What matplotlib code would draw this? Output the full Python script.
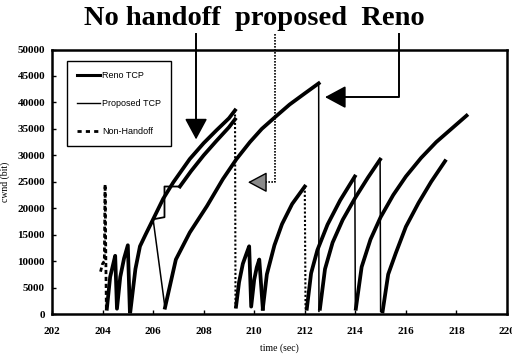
import numpy as np
import matplotlib
matplotlib.use('Agg')
import matplotlib.pyplot as plt
from matplotlib.lines import Line2D

# ---- data (time in sec, cwnd in bit) ----
# short dashed spike around 204 s
spike_t = [203.92, 204.0, 204.07, 204.1, 204.15]
spike_w = [8000, 9500, 10000, 24500, 1000]

# small teeth 204-205 s
teeth1_t = [204.17, 204.3, 204.45, 204.5, 204.57, 204.7, 204.85, 205.0, 205.08]
teeth1_w = [1000, 7000, 10000, 11000, 1000, 7000, 10500, 13000, 500]

# upper curve 205-209.2 s (no handoff)
nh_t = [205.1, 205.3, 205.48, 205.7, 206.0, 206.4, 206.8, 207.45, 208.0, 208.5, 209.0, 209.24]
nh_w = [500, 8500, 12800, 15000, 17900, 21800, 24900, 29300, 32300, 34700, 37000, 38500]

# proposed curve (lower line of the pair)
prop_t = [206.0, 206.45, 206.45, 207.06, 207.5, 208.0, 208.5, 209.0, 209.24]
prop_w = [17900, 18300, 24100, 24100, 27000, 30000, 32700, 35300, 36800]

# drop at 209.24 s
drop1_t = [209.24, 209.26]
drop1_w = [38500, 1000]

# reno: thin fall 206.0 -> 206.47 then long rise to 212.55
vfall_t = [206.0, 206.47]
vfall_w = [17900, 1200]
reno1_t = [206.47, 206.9, 207.45, 208.13, 208.76, 209.3, 209.83, 210.3, 210.82, 211.4, 212.0, 212.55]
reno1_w = [1200, 10300, 15400, 20400, 25500, 29300, 32500, 35000, 37200, 39600, 41700, 43600]
reno_drop1_t = [212.55, 212.56]
reno_drop1_w = [43600, 500]
reno2_t = [212.6, 212.8, 213.1, 213.5, 214.0, 214.5, 214.98]
reno2_w = [1000, 8500, 13500, 17800, 22000, 25800, 29200]
reno_drop2_t = [214.98, 215.0]
reno_drop2_w = [29200, 500]
reno3_t = [215.08, 215.3, 215.6, 216.0, 216.5, 217.0, 217.55]
reno3_w = [500, 7500, 11500, 16500, 21000, 25000, 28900]

# teeth 209.3-210.3 s
teeth2_t = [209.28, 209.4, 209.55, 209.7, 209.8, 209.88, 210.0, 210.1, 210.2, 210.34]
teeth2_w = [1400, 6000, 9500, 11500, 12800, 1400, 6500, 8800, 10300, 1000]

# rise 210.34 -> 212.0, dotted drop
rise2_t = [210.34, 210.5, 210.8, 211.1, 211.5, 212.0]
rise2_w = [1000, 7500, 13000, 17000, 20800, 24100]
drop2_t = [212.0, 212.03]
drop2_w = [24100, 1000]

# rise 212.08 -> 213.98, drop
rise3_t = [212.08, 212.25, 212.5, 212.9, 213.4, 213.98]
rise3_w = [1000, 7700, 12100, 16900, 21500, 26000]
drop3_t = [213.98, 214.0]
drop3_w = [26000, 1000]

# long rise 214.02 -> 218.4
rise4_t = [214.02, 214.25, 214.6, 215.0, 215.5, 216.0, 216.6, 217.2, 217.8, 218.4]
rise4_w = [1000, 8900, 14100, 18300, 22500, 26000, 29500, 32500, 35000, 37500]

x_ticks = [202, 204, 206, 208, 210, 212, 214, 216, 218, 220]
y_ticks = [0, 5000, 10000, 15000, 20000, 25000, 30000, 35000, 40000, 45000, 50000]

serif = ['Liberation Serif', 'DejaVu Serif']

fig = plt.figure(figsize=(5.12, 3.57), dpi=100)
ax = fig.add_axes([52/512, 43/357, 455/512, 264.5/357])

thick = 2.7
k = 'black'
ax.plot(spike_t, spike_w, color=k, lw=2.0, ls=(0, (1.5, 1)))
ax.plot(teeth1_t, teeth1_w, color=k, lw=thick)
ax.plot(nh_t, nh_w, color=k, lw=thick)
ax.plot(prop_t[:4], prop_w[:4], color=k, lw=1.3)
ax.plot(prop_t[3:], prop_w[3:], color=k, lw=thick)
ax.plot(drop1_t, drop1_w, color=k, lw=1.5, ls=(0, (1, 1)))
ax.plot(vfall_t, vfall_w, color=k, lw=1.1)
ax.plot(reno1_t, reno1_w, color=k, lw=thick)
ax.plot(reno_drop1_t, reno_drop1_w, color=k, lw=1.1)
ax.plot(reno2_t, reno2_w, color=k, lw=thick)
ax.plot(reno_drop2_t, reno_drop2_w, color=k, lw=1.1)
ax.plot(reno3_t, reno3_w, color=k, lw=thick)
ax.plot(teeth2_t, teeth2_w, color=k, lw=thick)
ax.plot(rise2_t, rise2_w, color=k, lw=thick)
ax.plot(drop2_t, drop2_w, color=k, lw=1.5, ls=(0, (1, 1)))
ax.plot(rise3_t, rise3_w, color=k, lw=thick)
ax.plot(drop3_t, drop3_w, color=k, lw=1.1)
ax.plot(rise4_t, rise4_w, color=k, lw=thick)

ax.set_xlim(202, 220)
ax.set_ylim(0, 50000)
ax.set_xticks(x_ticks)
ax.set_yticks(y_ticks)
ax.set_xticklabels([str(v) for v in x_ticks], family=serif, fontweight='bold')
ax.set_yticklabels([str(v) for v in y_ticks], family=serif, fontweight='bold')
ax.tick_params(direction='in', length=3, width=1, labelsize=8, pad=5)
ax.tick_params(axis='x', pad=9)
for s in ax.spines.values():
    s.set_linewidth(1.8)

ax.set_xlabel('time (sec)', family=serif, fontsize=7, labelpad=6)
ax.set_ylabel('cwnd (bit)', family=serif, fontsize=7, labelpad=5)

# legend
handles = [Line2D([], [], color=k, lw=2.2),
           Line2D([], [], color=k, lw=1.0),
           Line2D([], [], color=k, lw=2.0, ls=(0, (1.5, 1.5)))]
labels = ['Reno TCP', 'Proposed TCP', 'Non-Handoff']
lgd = ax.legend(handles, labels, loc='upper left', bbox_to_anchor=(0.033, 0.955),
                borderaxespad=0, fancybox=False, edgecolor='black', framealpha=1,
                prop={'family': 'Liberation Sans', 'size': 6.5},
                handlelength=2.6, handletextpad=0.2, labelspacing=2.1, borderpad=1.1)
lgd.get_frame().set_linewidth(1.0)

# title text and pointer arrows
fig.text(0.497, 0.947, 'No handoff  proposed  Reno', ha='center', va='center',
         family=serif, fontweight='bold', fontsize=20.5)

top = 52900
# no handoff
ax.plot([207.7, 207.7], [top, 36000], color=k, lw=1.4, clip_on=False)
ax.annotate('', xy=(207.7, 33000), xytext=(207.7, 36600),
            arrowprops=dict(arrowstyle='-|>,head_length=0.65,head_width=0.35',
                            mutation_scale=20, color=k, lw=1.2, shrinkA=0, shrinkB=0),
            annotation_clip=False)
# proposed
ax.plot([210.82, 210.82, 210.35], [top, 24900, 24900], color=k, lw=1.2,
        ls=(0, (1, 0.8)), clip_on=False)
ax.annotate('', xy=(209.75, 24900), xytext=(210.4, 24900),
            arrowprops=dict(arrowstyle='-|>,head_length=0.6,head_width=0.32',
                            mutation_scale=20, facecolor='#8a8a8a', edgecolor=k,
                            lw=1.0, shrinkA=0, shrinkB=0),
            annotation_clip=False)
# reno
ax.plot([215.73, 215.73, 213.4], [top, 41000, 41000], color=k, lw=1.4, clip_on=False)
ax.annotate('', xy=(212.8, 41000), xytext=(213.55, 41000),
            arrowprops=dict(arrowstyle='-|>,head_length=0.65,head_width=0.35',
                            mutation_scale=20, color=k, lw=1.2, shrinkA=0, shrinkB=0),
            annotation_clip=False)

fig.savefig('out.png', dpi=100)
